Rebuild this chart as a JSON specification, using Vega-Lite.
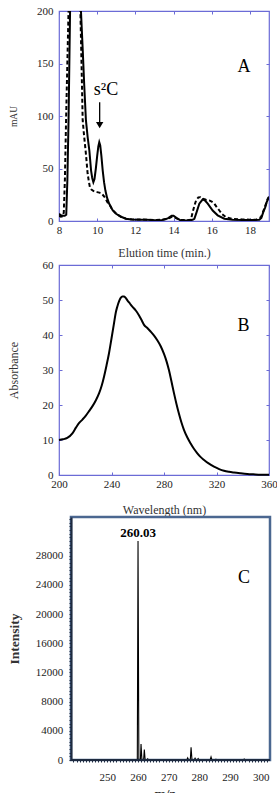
{
  "$schema": "https://vega.github.io/schema/vega-lite/v6.json",
  "background": "white",
  "padding": {"left": 6, "top": 4, "right": 0, "bottom": 0},
  "config": {
    "font": "Liberation Serif",
    "axis": {
      "labelFont": "Liberation Serif",
      "titleFont": "Liberation Serif",
      "labelFontSize": 11,
      "titleFontSize": 12,
      "titleFontWeight": "normal",
      "labelColor": "#222222",
      "titleColor": "#333333",
      "grid": false,
      "labelFlush": false
    },
    "text": {"font": "Liberation Serif"}
  },
  "datasets": {
    "solid": [
      {"t": 8.0, "v": 7}, {"t": 8.1, "v": 5.5}, {"t": 8.2, "v": 5}, {"t": 8.3, "v": 5}, {"t": 8.38, "v": 6},
      {"t": 8.44, "v": 40}, {"t": 8.5, "v": 96}, {"t": 8.58, "v": 200}, {"t": 8.7, "v": 400}, {"t": 8.9, "v": 600},
      {"t": 9.05, "v": 400}, {"t": 9.15, "v": 200}, {"t": 9.25, "v": 160}, {"t": 9.32, "v": 130}, {"t": 9.41, "v": 96},
      {"t": 9.5, "v": 80}, {"t": 9.59, "v": 67}, {"t": 9.68, "v": 48}, {"t": 9.74, "v": 41}, {"t": 9.8, "v": 37},
      {"t": 9.86, "v": 40}, {"t": 9.93, "v": 50}, {"t": 10.0, "v": 62}, {"t": 10.06, "v": 71}, {"t": 10.11, "v": 75},
      {"t": 10.16, "v": 72}, {"t": 10.22, "v": 62}, {"t": 10.29, "v": 48}, {"t": 10.36, "v": 37}, {"t": 10.43, "v": 29},
      {"t": 10.52, "v": 22}, {"t": 10.63, "v": 16.4}, {"t": 10.8, "v": 10.5}, {"t": 10.99, "v": 6.9}, {"t": 11.25, "v": 4},
      {"t": 11.51, "v": 2.1}, {"t": 11.8, "v": 1.5}, {"t": 12.2, "v": 1.2}, {"t": 12.6, "v": 1.3}, {"t": 13.0, "v": 0.8},
      {"t": 13.4, "v": 1}, {"t": 13.7, "v": 2.5}, {"t": 13.9, "v": 5}, {"t": 14.0, "v": 5}, {"t": 14.15, "v": 3},
      {"t": 14.35, "v": 0.8}, {"t": 14.7, "v": 0.5}, {"t": 15.0, "v": 1.1}, {"t": 15.09, "v": 2}, {"t": 15.2, "v": 8},
      {"t": 15.35, "v": 16.5}, {"t": 15.53, "v": 20.6}, {"t": 15.65, "v": 19.5}, {"t": 15.79, "v": 16.5}, {"t": 16.05, "v": 10},
      {"t": 16.31, "v": 5.4}, {"t": 16.66, "v": 2.2}, {"t": 17.1, "v": 1.1}, {"t": 17.6, "v": 1}, {"t": 18.1, "v": 1},
      {"t": 18.49, "v": 1.1}, {"t": 18.6, "v": 3}, {"t": 18.7, "v": 8.4}, {"t": 18.8, "v": 13}, {"t": 18.88, "v": 18},
      {"t": 19.0, "v": 23}
    ],
    "dashed": [
      {"t": 8.0, "v": 5}, {"t": 8.1, "v": 4}, {"t": 8.2, "v": 4.5}, {"t": 8.25, "v": 8}, {"t": 8.31, "v": 40},
      {"t": 8.37, "v": 96}, {"t": 8.5, "v": 200}, {"t": 8.65, "v": 400}, {"t": 8.85, "v": 600}, {"t": 9.0, "v": 400},
      {"t": 9.12, "v": 200}, {"t": 9.18, "v": 150}, {"t": 9.24, "v": 96}, {"t": 9.32, "v": 80}, {"t": 9.41, "v": 64},
      {"t": 9.5, "v": 45}, {"t": 9.56, "v": 38}, {"t": 9.62, "v": 32}, {"t": 9.7, "v": 30}, {"t": 9.85, "v": 28},
      {"t": 10.0, "v": 27.5}, {"t": 10.11, "v": 27}, {"t": 10.2, "v": 26.5}, {"t": 10.29, "v": 25}, {"t": 10.38, "v": 23},
      {"t": 10.46, "v": 20.5}, {"t": 10.55, "v": 17.5}, {"t": 10.65, "v": 15.5}, {"t": 10.8, "v": 10.5}, {"t": 11.0, "v": 6.9},
      {"t": 11.25, "v": 4}, {"t": 11.51, "v": 2.2}, {"t": 11.8, "v": 1.6}, {"t": 12.2, "v": 1.4}, {"t": 12.6, "v": 1.3},
      {"t": 13.0, "v": 1}, {"t": 13.4, "v": 1.2}, {"t": 13.7, "v": 2}, {"t": 13.9, "v": 4}, {"t": 14.0, "v": 4},
      {"t": 14.15, "v": 2.5}, {"t": 14.35, "v": 1}, {"t": 14.7, "v": 0.8}, {"t": 14.91, "v": 1.1}, {"t": 15.0, "v": 8.4},
      {"t": 15.1, "v": 15}, {"t": 15.18, "v": 19.6}, {"t": 15.3, "v": 22.5}, {"t": 15.4, "v": 22.7}, {"t": 15.53, "v": 21.2},
      {"t": 15.7, "v": 20.2}, {"t": 15.87, "v": 19.6}, {"t": 16.0, "v": 18.5}, {"t": 16.14, "v": 16.4}, {"t": 16.27, "v": 13},
      {"t": 16.4, "v": 10}, {"t": 16.55, "v": 6.5}, {"t": 16.75, "v": 3.6}, {"t": 17.1, "v": 2}, {"t": 17.6, "v": 1.5},
      {"t": 18.0, "v": 1.3}, {"t": 18.32, "v": 1.1}, {"t": 18.58, "v": 3.6}, {"t": 18.75, "v": 11.6}, {"t": 18.93, "v": 21},
      {"t": 19.0, "v": 23}
    ],
    "absorb": [
      {"wl": 200, "a": 10.0}, {"wl": 203, "a": 10.2}, {"wl": 206.3, "a": 10.6}, {"wl": 210.2, "a": 11.9},
      {"wl": 213, "a": 13.6}, {"wl": 215.2, "a": 14.8}, {"wl": 218, "a": 15.9}, {"wl": 220.3, "a": 16.9},
      {"wl": 223, "a": 18.3}, {"wl": 225.4, "a": 19.6}, {"wl": 228, "a": 21.3}, {"wl": 230.5, "a": 23.3},
      {"wl": 232.5, "a": 25.5}, {"wl": 234.3, "a": 28.1}, {"wl": 236.2, "a": 31.3}, {"wl": 238.1, "a": 34.8},
      {"wl": 240, "a": 39}, {"wl": 241.9, "a": 43.3}, {"wl": 243.2, "a": 46.3}, {"wl": 244.4, "a": 48.1},
      {"wl": 245.8, "a": 49.7}, {"wl": 247.0, "a": 50.6}, {"wl": 248.3, "a": 51.0}, {"wl": 249.5, "a": 51.0},
      {"wl": 250.8, "a": 50.6}, {"wl": 252.1, "a": 49.9}, {"wl": 254, "a": 49.0}, {"wl": 255.9, "a": 48.1},
      {"wl": 258.5, "a": 47.0}, {"wl": 261.0, "a": 45.6}, {"wl": 263, "a": 44.2}, {"wl": 264.8, "a": 42.9},
      {"wl": 267.3, "a": 42.0}, {"wl": 269.8, "a": 41.0}, {"wl": 272.3, "a": 39.9}, {"wl": 274.9, "a": 38.5},
      {"wl": 277.5, "a": 36.8}, {"wl": 280.0, "a": 34.6}, {"wl": 282, "a": 32.4}, {"wl": 283.8, "a": 29.9},
      {"wl": 285.7, "a": 26.7}, {"wl": 287.6, "a": 23.4}, {"wl": 289.5, "a": 20.3}, {"wl": 291.4, "a": 17.5},
      {"wl": 293.3, "a": 15.0}, {"wl": 295.2, "a": 12.9}, {"wl": 297.8, "a": 10.7}, {"wl": 300.3, "a": 9.0},
      {"wl": 302.8, "a": 7.5}, {"wl": 305.4, "a": 6.2}, {"wl": 308, "a": 5.1}, {"wl": 310.5, "a": 4.3},
      {"wl": 314, "a": 3.3}, {"wl": 318.1, "a": 2.4}, {"wl": 322, "a": 1.7}, {"wl": 325.7, "a": 1.2},
      {"wl": 329.5, "a": 0.9}, {"wl": 333.3, "a": 0.7}, {"wl": 338, "a": 0.5}, {"wl": 343.5, "a": 0.3},
      {"wl": 348, "a": 0.2}, {"wl": 353.7, "a": 0.1}, {"wl": 360, "a": 0.1}
    ],
    "ms": [
      {"mz": 238.5, "i": 0}, {"mz": 259.8, "i": 0}, {"mz": 260.03, "i": 30000}, {"mz": 260.3, "i": 0},
      {"mz": 260.8, "i": 0}, {"mz": 261.01, "i": 2200}, {"mz": 261.3, "i": 0},
      {"mz": 261.85, "i": 0}, {"mz": 262.08, "i": 1450}, {"mz": 262.35, "i": 0},
      {"mz": 263.0, "i": 0}, {"mz": 263.2, "i": 150}, {"mz": 263.45, "i": 0},
      {"mz": 275.9, "i": 0}, {"mz": 276.2, "i": 300}, {"mz": 276.5, "i": 0},
      {"mz": 277.05, "i": 0}, {"mz": 277.3, "i": 1750}, {"mz": 277.6, "i": 0},
      {"mz": 278.3, "i": 0}, {"mz": 278.6, "i": 250}, {"mz": 278.9, "i": 0},
      {"mz": 279.3, "i": 0}, {"mz": 279.6, "i": 200}, {"mz": 279.9, "i": 0},
      {"mz": 283.5, "i": 0}, {"mz": 283.8, "i": 420}, {"mz": 284.1, "i": 0},
      {"mz": 285.1, "i": 0}, {"mz": 285.4, "i": 100}, {"mz": 285.7, "i": 0},
      {"mz": 294.3, "i": 0}, {"mz": 294.6, "i": 130}, {"mz": 294.9, "i": 0},
      {"mz": 296.5, "i": 0}, {"mz": 296.8, "i": 60}, {"mz": 297.1, "i": 0}, {"mz": 298.5, "i": 0}
    ],
    "msFrame": [{"mzFrom": 238.2, "mzTo": 303, "iFrom": 0, "iTo": 33300}]
  },
  "columns": 1,
  "spacing": -2,
  "concat": [
    {
      "width": 210,
      "height": 210,
      "view": {"stroke": "#6b6bd6", "strokeWidth": 1.2},
      "layer": [
        {
          "data": {"name": "solid"},
          "mark": {"type": "line", "color": "black", "strokeWidth": 2, "clip": true},
          "encoding": {
            "x": {"field": "t", "type": "quantitative",
                  "scale": {"domain": [8, 19], "nice": false, "zero": false},
                  "axis": {"orient": "bottom", "values": [8, 10, 12, 14, 16, 18], "title": "Elution time (min.)",
                           "domain": false, "tickColor": "#6b6bd6", "tickSize": -3, "labelPadding": 6,
                           "minExtent": 15, "maxExtent": 15, "titlePadding": 11.5}},
            "y": {"field": "v", "type": "quantitative",
                  "scale": {"domain": [0, 200], "nice": false},
                  "axis": {"orient": "left", "values": [0, 50, 100, 150, 200], "title": "mAU", "titleFontSize": 9.5,
                           "domain": false, "tickColor": "#6b6bd6", "tickSize": -3, "labelPadding": 9,
                           "minExtent": 30, "maxExtent": 30, "titlePadding": 11}}
          }
        },
        {
          "data": {"name": "dashed"},
          "mark": {"type": "line", "color": "black", "strokeWidth": 2, "strokeDash": [4, 2.5], "clip": true},
          "encoding": {
            "x": {"field": "t", "type": "quantitative",
                  "axis": {"orient": "top", "values": [8, 10, 12, 14, 16, 18], "labels": false, "title": null,
                           "domain": false, "tickColor": "#6b6bd6", "tickSize": -3, "minExtent": 0, "maxExtent": 0}},
            "y": {"field": "v", "type": "quantitative",
                  "axis": {"orient": "right", "values": [0, 50, 100, 150, 200], "labels": false, "title": null,
                           "domain": false, "tickColor": "#6b6bd6", "tickSize": -3, "minExtent": 0, "maxExtent": 0}}
          }
        },
        {
          "data": {"values": [{"t": 10.13, "top": 113, "tip": 93}]},
          "mark": {"type": "rule", "color": "black", "strokeWidth": 1.3},
          "encoding": {
            "x": {"field": "t", "type": "quantitative", "axis": null},
            "y": {"field": "top", "type": "quantitative", "axis": null},
            "y2": {"field": "tip"}
          }
        },
        {
          "data": {"values": [{"t": 10.13, "head": 91.3}]},
          "mark": {"type": "point", "shape": "triangle-down", "filled": true, "color": "black", "size": 55, "opacity": 1},
          "encoding": {
            "x": {"field": "t", "type": "quantitative", "axis": null},
            "y": {"field": "head", "type": "quantitative", "axis": null}
          }
        },
        {
          "data": {"values": [{"t": 10.46, "v": 124.6, "label": "s²C"}]},
          "mark": {"type": "text", "fontSize": 18, "color": "black", "align": "center", "baseline": "middle"},
          "encoding": {
            "x": {"field": "t", "type": "quantitative", "axis": null},
            "y": {"field": "v", "type": "quantitative", "axis": null},
            "text": {"field": "label"}
          }
        },
        {
          "data": {"values": [{"t": 17.69, "v": 146.5, "label": "A"}]},
          "mark": {"type": "text", "fontSize": 18, "color": "black", "align": "center", "baseline": "middle"},
          "encoding": {
            "x": {"field": "t", "type": "quantitative", "axis": null},
            "y": {"field": "v", "type": "quantitative", "axis": null},
            "text": {"field": "label"}
          }
        }
      ],
      "resolve": {"axis": {"x": "independent", "y": "independent"}}
    },
    {
      "width": 210,
      "height": 210,
      "view": {"stroke": "#6b6bd6", "strokeWidth": 1.2},
      "layer": [
        {
          "data": {"name": "absorb"},
          "mark": {"type": "line", "color": "black", "strokeWidth": 2, "interpolate": "monotone"},
          "encoding": {
            "x": {"field": "wl", "type": "quantitative",
                  "scale": {"domain": [200, 360], "nice": false, "zero": false},
                  "axis": {"orient": "bottom", "values": [200, 240, 280, 320, 360], "title": "Wavelength (nm)",
                           "domain": false, "tickColor": "#6b6bd6", "tickSize": -3, "labelPadding": 6,
                           "minExtent": 15, "maxExtent": 15, "titlePadding": 14}},
            "y": {"field": "a", "type": "quantitative",
                  "scale": {"domain": [0, 60], "nice": false},
                  "axis": {"orient": "left", "values": [0, 10, 20, 30, 40, 50, 60], "title": "Absorbance",
                           "domain": false, "tickColor": "#6b6bd6", "tickSize": -3, "labelPadding": 9,
                           "minExtent": 30, "maxExtent": 30, "titlePadding": 9}}
          }
        },
        {
          "data": {"name": "absorb"},
          "mark": {"type": "line", "opacity": 0},
          "encoding": {
            "x": {"field": "wl", "type": "quantitative",
                  "axis": {"orient": "top", "values": [200, 240, 280, 320, 360], "labels": false, "title": null,
                           "domain": false, "tickColor": "#6b6bd6", "tickSize": -3, "minExtent": 0, "maxExtent": 0}},
            "y": {"field": "a", "type": "quantitative",
                  "axis": {"orient": "right", "values": [0, 10, 20, 30, 40, 50, 60], "labels": false, "title": null,
                           "domain": false, "tickColor": "#6b6bd6", "tickSize": -3, "minExtent": 0, "maxExtent": 0}}
          }
        },
        {
          "data": {"values": [{"wl": 340.5, "a": 42.6, "label": "B"}]},
          "mark": {"type": "text", "fontSize": 18, "color": "black", "align": "center", "baseline": "middle"},
          "encoding": {
            "x": {"field": "wl", "type": "quantitative", "axis": null},
            "y": {"field": "a", "type": "quantitative", "axis": null},
            "text": {"field": "label"}
          }
        }
      ],
      "resolve": {"axis": {"x": "independent", "y": "independent"}}
    },
    {
      "width": 211,
      "height": 243,
      "view": {"stroke": null},
      "layer": [
        {
          "data": {"name": "msFrame"},
          "mark": {"type": "rect", "fill": null, "fillOpacity": 0, "stroke": "#4b6790", "strokeWidth": 2.5},
          "encoding": {
            "x": {"field": "mzFrom", "type": "quantitative",
                  "scale": {"domain": [234.3, 303], "nice": false, "zero": false},
                  "axis": {"orient": "top", "title": " ", "titleFontSize": 3, "titlePadding": 0,
                           "labels": false, "ticks": false, "domain": false, "minExtent": 0, "maxExtent": 0}},
            "x2": {"field": "mzTo"},
            "y": {"field": "iFrom", "type": "quantitative",
                  "scale": {"domain": [0, 33300], "nice": false}, "axis": null},
            "y2": {"field": "iTo"}
          }
        },
        {
          "data": {"name": "ms"},
          "mark": {"type": "line", "color": "black", "strokeWidth": 1.1},
          "encoding": {
            "x": {"field": "mz", "type": "quantitative",
                  "axis": {"orient": "bottom", "title": "m/z", "titleFontWeight": "bold", "titleFontSize": 13.5,
                           "values": [250, 260, 270, 280, 290, 300],
                           "domain": false, "ticks": false, "tickSize": 0,
                           "labelPadding": 11.5, "minExtent": 24, "maxExtent": 24, "titlePadding": 2}},
            "y": {"field": "i", "type": "quantitative",
                  "axis": {"orient": "left", "title": "Intensity", "titleFontWeight": "bold", "titleFontSize": 13.5,
                           "values": [0, 4000, 8000, 12000, 16000, 20000, 24000, 28000], "format": "d",
                           "offset": -12, "domain": false, "ticks": false, "tickSize": 0,
                           "labelPadding": 8.3, "minExtent": 40, "maxExtent": 40, "titlePadding": 10}}
          }
        },
        {
          "data": {"name": "ms"},
          "mark": {"type": "line", "opacity": 0},
          "encoding": {
            "x": {"field": "mz", "type": "quantitative",
                  "axis": {"orient": "bottom", "title": null, "labels": false, "domain": false,
                           "values": [239, 240, 241, 242, 243, 244, 245, 246, 247, 248, 249, 250, 251, 252, 253, 254, 255, 256, 257, 258, 259, 260, 261, 262, 263, 264, 265, 266, 267, 268, 269, 270, 271, 272, 273, 274, 275, 276, 277, 278, 279, 280, 281, 282, 283, 284, 285, 286, 287, 288, 289, 290, 291, 292, 293, 294, 295, 296, 297, 298, 299, 300, 301, 302],
                           "tickColor": "#1e2b40", "tickSize": 2, "tickWidth": 1, "minExtent": 0, "maxExtent": 0, "zindex": 1}},
            "y": {"field": "i", "type": "quantitative",
                  "axis": {"orient": "left", "title": null, "labels": false, "offset": -12,
                           "values": [0, 500, 1000, 1500, 2000, 2500, 3000, 3500, 4000, 4500, 5000, 5500, 6000, 6500, 7000, 7500, 8000, 8500, 9000, 9500, 10000, 10500, 11000, 11500, 12000, 12500, 13000, 13500, 14000, 14500, 15000, 15500, 16000, 16500, 17000, 17500, 18000, 18500, 19000, 19500, 20000, 20500, 21000, 21500, 22000, 22500, 23000, 23500, 24000, 24500, 25000, 25500, 26000, 26500, 27000, 27500, 28000, 28500, 29000, 29500, 30000, 30500, 31000, 31500, 32000, 32500, 33000],
                           "domain": true, "domainColor": "#1e2b40", "domainWidth": 2,
                           "tickColor": "#1e2b40", "tickSize": 2, "tickWidth": 1, "minExtent": 0, "maxExtent": 0, "zindex": 1}}
          }
        },
        {
          "data": {"name": "msFrame"},
          "mark": {"type": "rule", "color": "#1e2b40", "strokeWidth": 2},
          "encoding": {
            "x": {"field": "mzFrom", "type": "quantitative", "axis": null},
            "x2": {"field": "mzTo"},
            "y": {"field": "iFrom", "type": "quantitative", "axis": null}
          }
        },
        {
          "data": {"values": [{"mz": 260.03, "i": 31080, "label": "260.03"}]},
          "mark": {"type": "text", "fontSize": 13, "fontWeight": "bold", "color": "black", "align": "center", "baseline": "middle"},
          "encoding": {
            "x": {"field": "mz", "type": "quantitative", "axis": null},
            "y": {"field": "i", "type": "quantitative", "axis": null},
            "text": {"field": "label"}
          }
        },
        {
          "data": {"values": [{"mz": 294.5, "i": 24880, "label": "C"}]},
          "mark": {"type": "text", "fontSize": 18, "color": "black", "align": "center", "baseline": "middle"},
          "encoding": {
            "x": {"field": "mz", "type": "quantitative", "axis": null},
            "y": {"field": "i", "type": "quantitative", "axis": null},
            "text": {"field": "label"}
          }
        }
      ],
      "resolve": {"axis": {"x": "independent", "y": "independent"}}
    }
  ]
}
